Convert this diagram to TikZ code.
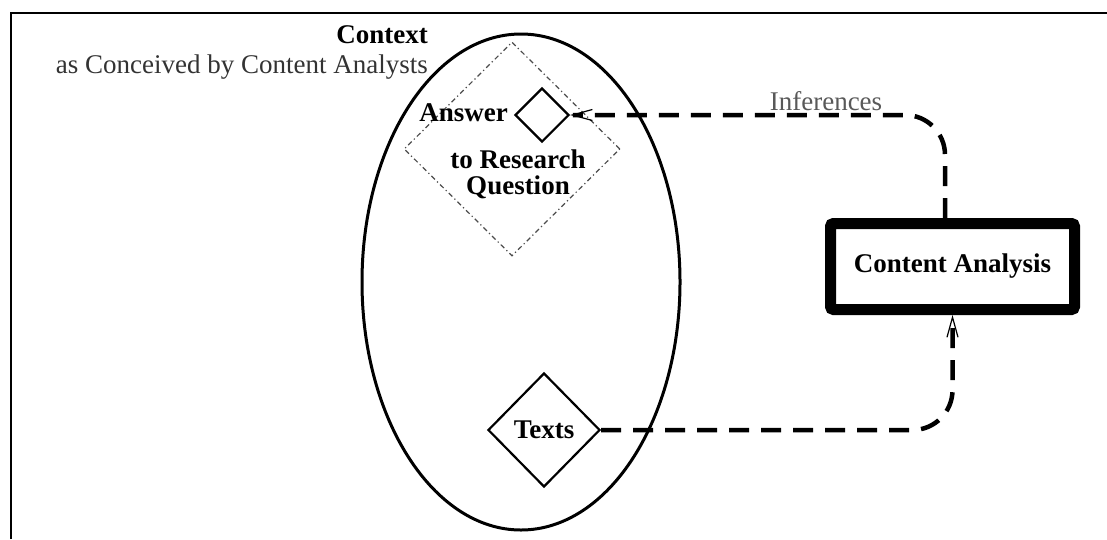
\documentclass[tikz,border=0pt]{standalone}
\usepackage{fontspec}
\setmainfont{Liberation Serif}
\usetikzlibrary{shapes.geometric,arrows.meta,calc}
\begin{document}
\begin{tikzpicture}[x=1pt,y=-1pt,
  lbl/.style={font=\fontsize{27}{26}\selectfont, inner sep=0pt},
  blbl/.style={font=\fontsize{27}{26}\selectfont\bfseries, inner sep=0pt},
  dia/.style={draw, diamond, line width=2.2pt, inner sep=0pt},
  conn/.style={line width=4.5pt, dash pattern=on 20pt off 12pt, rounded corners=40pt},
  tip/.style={-{Straight Barb[length=20pt,width=11pt,line width=1.2pt]}}]
\useasboundingbox (0,0) rectangle (1107,539);
% frame
\draw[line width=2pt] (10.5,539) -- (10.5,12.5) -- (1107,12.5);
% context ellipse
\node[draw, ellipse, line width=3pt, minimum width=318pt, minimum height=496pt, inner sep=0pt] (ctx) at (521,282) {};
% research question diamond
\node[draw=black!70, diamond, line width=1.2pt, dash pattern=on 5pt off 3pt on 1.2pt off 3pt,
      minimum width=216pt, minimum height=214pt, inner sep=0pt] (rq) at (512,149) {};
\node[dia, minimum width=54pt, minimum height=54pt] (ans) at (542,115) {};
\node[blbl, anchor=base east] (anslbl) at (508,121) {Answer};
\node[blbl, align=center] (rqlbl) at (518,174) {to Research\\Question};
% texts
\node[dia, blbl, minimum width=112pt, minimum height=114pt] (texts) at (544,430) {Texts};
% content analysis
\node[draw, line width=11pt, rounded corners=3pt, minimum width=244pt, minimum height=86pt, blbl] (ca) at (952.5,266.5) {Content Analysis};
% labels
\node[blbl, anchor=base east] (ctxlbl) at (428,43) {Context};
\node[lbl, anchor=base east, text=black!80] (ctxsub) at (428,73) {as Conceived by Content Analysts};
\node[lbl, anchor=base, text=black!65] (inf) at (826,110) {Inferences};
% connectors
\draw[conn, tip] ($(ca.north)+(-7.5,0)$) |- (ans.east);
\draw[conn, tip] (texts.east) -| (ca.south);
\end{tikzpicture}
\end{document}
